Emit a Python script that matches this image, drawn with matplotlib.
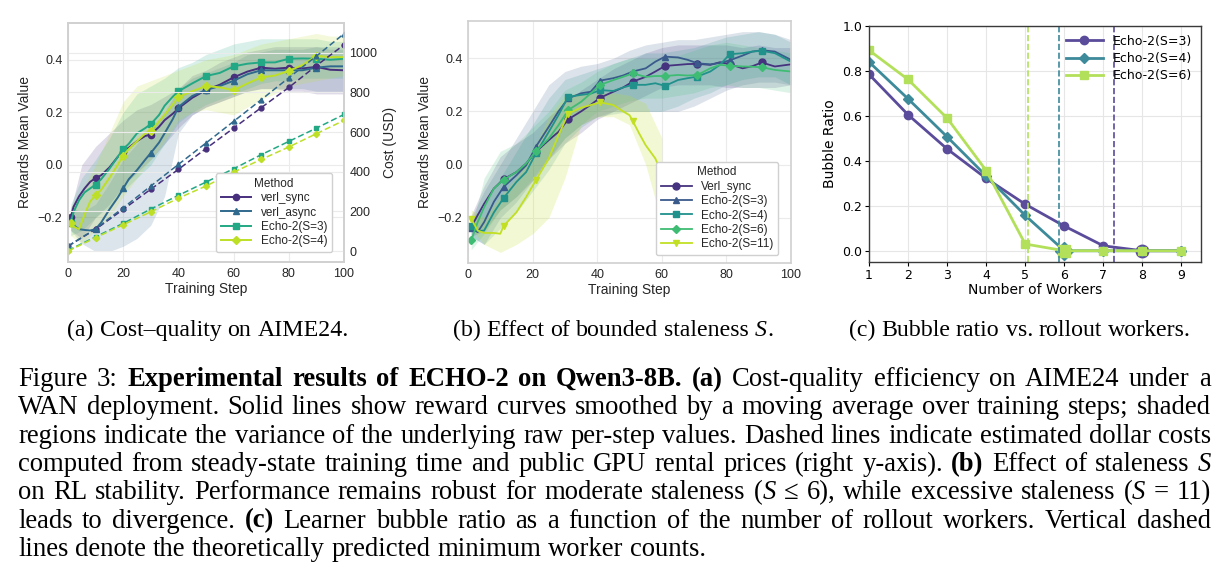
import re
import matplotlib
matplotlib.use('Agg')
import matplotlib.pyplot as plt
import numpy as np

# ---------------- data: (a) cost-quality on AIME24 ----------------
a_steps = [1, 2, 4, 6, 8, 10, 12, 15, 18, 20, 22, 25, 28, 30, 33, 35, 38, 40, 45, 50,
           55, 60, 65, 70, 75, 80, 85, 90, 95, 100]
a_verl_sync = [-0.20, -0.16, -0.12, -0.09, -0.065, -0.05, -0.04, -0.01, 0.03, 0.05, 0.065, 0.09,
               0.11, 0.115, 0.145, 0.17, 0.195, 0.215, 0.255, 0.285, 0.305, 0.333, 0.355, 0.37,
               0.366, 0.37, 0.367, 0.373, 0.362, 0.36]
a_verl_async = [-0.21, -0.23, -0.245, -0.248, -0.25, -0.245, -0.22, -0.17, -0.125, -0.09, -0.055,
                -0.02, 0.02, 0.045, 0.085, 0.12, 0.175, 0.22, 0.262, 0.285, 0.30, 0.32, 0.345, 0.36,
                0.36, 0.36, 0.36, 0.37, 0.375, 0.375]
a_echo_s3 = [-0.22, -0.18, -0.135, -0.105, -0.09, -0.075, -0.055, -0.015, 0.03, 0.06, 0.08, 0.12,
             0.14, 0.155, 0.19, 0.225, 0.26, 0.28, 0.31, 0.338, 0.35, 0.375, 0.385, 0.39, 0.39,
             0.404, 0.405, 0.404, 0.40, 0.404]
a_echo_s4 = [-0.22, -0.235, -0.245, -0.19, -0.14, -0.115, -0.095, -0.05, 0.0, 0.035, 0.06, 0.09,
             0.12, 0.13, 0.165, 0.19, 0.23, 0.258, 0.28, 0.30, 0.295, 0.284, 0.31, 0.333, 0.34,
             0.358, 0.38, 0.415, 0.41, 0.41]
a_mark_steps = [1, 10, 20, 30, 40, 50, 60, 70, 80, 90]

band_steps = [1, 5, 10, 15, 20, 25, 30, 35, 40, 45, 50, 55, 60, 65, 70, 75, 80, 85, 90, 95, 100]
a_sync_lo = [-0.25, -0.28, -0.2, -0.15, -0.08, -0.03, 0.02, 0.08, 0.14, 0.19, 0.22, 0.24, 0.26,
             0.28, 0.29, 0.29, 0.28, 0.28, 0.27, 0.27, 0.27]
a_sync_hi = [-0.17, 0.0, 0.07, 0.12, 0.17, 0.21, 0.23, 0.26, 0.29, 0.34, 0.36, 0.39, 0.41, 0.43,
             0.44, 0.45, 0.45, 0.45, 0.45, 0.44, 0.44]
a_async_lo = [-0.25, -0.3, -0.33, -0.33, -0.31, -0.28, -0.23, -0.12, 0.12, 0.19, 0.22, 0.24, 0.26,
              0.28, 0.29, 0.29, 0.29, 0.29, 0.28, 0.28, 0.28]
a_async_hi = [-0.16, -0.18, -0.15, -0.07, 0.02, 0.08, 0.14, 0.2, 0.29, 0.33, 0.35, 0.37, 0.39,
              0.42, 0.43, 0.44, 0.44, 0.44, 0.45, 0.45, 0.45]
a_s3_lo = [-0.27, -0.25, -0.2, -0.16, -0.1, -0.05, 0.0, 0.08, 0.16, 0.2, 0.23, 0.25, 0.27, 0.29,
           0.31, 0.32, 0.32, 0.33, 0.33, 0.33, 0.33]
a_s3_hi = [-0.15, -0.05, 0.02, 0.1, 0.2, 0.27, 0.3, 0.33, 0.37, 0.39, 0.42, 0.44, 0.46, 0.47,
           0.48, 0.48, 0.48, 0.48, 0.48, 0.47, 0.47]
a_s4_lo = [-0.27, -0.3, -0.25, -0.2, -0.12, -0.05, 0.02, 0.09, 0.17, 0.2, 0.21, 0.2, 0.19, 0.22,
           0.25, 0.27, 0.3, 0.31, 0.32, 0.33, 0.34]
a_s4_hi = [-0.16, -0.1, 0.0, 0.12, 0.24, 0.3, 0.32, 0.34, 0.36, 0.38, 0.4, 0.41, 0.42, 0.44, 0.46,
           0.47, 0.48, 0.49, 0.5, 0.49, 0.49]

cost_steps = [0, 10, 20, 30, 40, 50, 60, 70, 80, 90, 100]
cost_verl_sync = [25, 110, 210, 312, 412, 517, 620, 723, 825, 935, 1040]
cost_verl_async = [25, 113, 218, 328, 437, 545, 654, 763, 874, 983, 1096]
cost_echo_s3 = [3, 72, 140, 212, 281, 348, 415, 486, 553, 620, 689]
cost_echo_s4 = [0, 68, 133, 198, 267, 328, 398, 462, 525, 592, 659]

a_labels = ['verl_sync', 'verl_async', 'Echo-2(S=3)', 'Echo-2(S=4)']

# ---------------- data: (b) bounded staleness ----------------
b_steps = [1, 3, 5, 8, 11, 15, 18, 21, 25, 28, 31, 35, 38, 41, 45, 48, 51, 55, 58, 61, 65, 68,
           71, 75, 78, 81, 85, 88, 91, 95, 100]
b_verl_sync = [-0.235, -0.19, -0.147, -0.09, -0.055, -0.028, 0.004, 0.048, 0.092, 0.123, 0.17,
               0.2, 0.225, 0.252, 0.274, 0.29, 0.312, 0.33, 0.35, 0.371, 0.375, 0.378, 0.379,
               0.375, 0.385, 0.378, 0.362, 0.37, 0.384, 0.369, 0.377]
b_echo_s3 = [-0.24, -0.254, -0.216, -0.14, -0.084, -0.04, -0.003, 0.067, 0.142, 0.2, 0.249, 0.268,
             0.274, 0.316, 0.325, 0.335, 0.35, 0.362, 0.387, 0.406, 0.403, 0.394, 0.381, 0.377,
             0.382, 0.392, 0.41, 0.425, 0.43, 0.425, 0.394]
b_echo_s4 = [-0.23, -0.25, -0.248, -0.18, -0.126, -0.065, -0.028, 0.042, 0.123, 0.186, 0.255,
             0.262, 0.267, 0.28, 0.277, 0.29, 0.3, 0.3, 0.306, 0.296, 0.318, 0.325, 0.331, 0.35,
             0.375, 0.415, 0.419, 0.425, 0.428, 0.419, 0.387]
b_echo_s6 = [-0.285, -0.216, -0.16, -0.09, -0.057, -0.028, 0.004, 0.05, 0.098, 0.148, 0.205,
             0.236, 0.268, 0.3, 0.318, 0.33, 0.343, 0.33, 0.333, 0.333, 0.337, 0.335, 0.337,
             0.362, 0.375, 0.372, 0.369, 0.368, 0.366, 0.356, 0.35]
b_mark_steps = [1, 11, 21, 31, 41, 51, 61, 71, 81, 91]
b11_steps = [1, 3, 5, 8, 10, 11, 15, 18, 21, 25, 28, 31, 35, 38, 41, 45, 48, 50, 51, 53, 55, 58, 60]
b_echo_s11 = [-0.204, -0.248, -0.257, -0.257, -0.26, -0.231, -0.179, -0.122, -0.059, 0.023, 0.11,
              0.192, 0.214, 0.224, 0.234, 0.224, 0.2, 0.186, 0.164, 0.117, 0.073, 0.023, -0.034]
b_mark11_steps = [1, 11, 21, 31, 41, 51]

b_sync_lo = [-0.27, -0.25, -0.17, -0.12, -0.06, 0.02, 0.08, 0.12, 0.17, 0.2, 0.23, 0.26, 0.29,
             0.3, 0.3, 0.3, 0.29, 0.29, 0.29, 0.29, 0.3]
b_sync_hi = [-0.19, -0.08, 0.03, 0.08, 0.12, 0.18, 0.23, 0.28, 0.32, 0.36, 0.39, 0.42, 0.44, 0.45,
             0.45, 0.45, 0.45, 0.44, 0.45, 0.44, 0.44]
b_s3_lo = [-0.27, -0.3, -0.2, -0.14, -0.06, 0.02, 0.1, 0.15, 0.18, 0.2, 0.2, 0.2, 0.2, 0.2, 0.22,
           0.25, 0.28, 0.3, 0.31, 0.31, 0.3]
b_s3_hi = [-0.2, -0.1, 0.0, 0.1, 0.2, 0.3, 0.35, 0.37, 0.38, 0.4, 0.43, 0.45, 0.46, 0.47, 0.47,
           0.48, 0.49, 0.5, 0.5, 0.49, 0.47]
b_s4_lo = [-0.27, -0.3, -0.24, -0.18, -0.1, -0.02, 0.08, 0.14, 0.18, 0.19, 0.2, 0.2, 0.2, 0.22,
           0.25, 0.27, 0.3, 0.32, 0.33, 0.33, 0.3]
b_s4_hi = [-0.2, -0.16, -0.05, 0.05, 0.15, 0.25, 0.32, 0.34, 0.36, 0.38, 0.4, 0.42, 0.42, 0.43,
           0.44, 0.46, 0.48, 0.49, 0.5, 0.49, 0.46]
b_s6_lo = [-0.32, -0.26, -0.17, -0.12, -0.05, 0.03, 0.1, 0.15, 0.2, 0.22, 0.24, 0.25, 0.25, 0.26,
           0.27, 0.29, 0.3, 0.29, 0.29, 0.28, 0.27]
b_s6_hi = [-0.24, -0.05, 0.05, 0.08, 0.14, 0.2, 0.28, 0.31, 0.35, 0.38, 0.4, 0.4, 0.4, 0.41, 0.43,
           0.45, 0.46, 0.45, 0.44, 0.43, 0.42]
band11_steps = [1, 5, 10, 15, 20, 25, 30, 35, 40, 45, 50, 55, 60]
b_s11_lo = [-0.24, -0.3, -0.33, -0.3, -0.26, -0.2, -0.05, 0.15, 0.18, 0.18, 0.15, 0.0, -0.22]
b_s11_hi = [-0.17, -0.2, -0.12, -0.05, 0.05, 0.18, 0.26, 0.27, 0.27, 0.27, 0.26, 0.23, 0.1]

b_labels = ['Verl_sync', 'Echo-2(S=3)', 'Echo-2(S=4)', 'Echo-2(S=6)', 'Echo-2(S=11)']

# ---------------- data: (c) bubble ratio ----------------
workers = [1, 2, 3, 4, 5, 6, 7, 8, 9]
bubble_s3 = [0.785, 0.605, 0.453, 0.322, 0.207, 0.110, 0.022, 0.0, 0.0]
bubble_s4 = [0.840, 0.676, 0.507, 0.333, 0.157, 0.0, 0.0, 0.0, 0.0]
bubble_s6 = [0.892, 0.762, 0.590, 0.357, 0.030, 0.0, 0.0, 0.0, 0.0]
predicted_min = [7.27, 5.86, 5.07]   # S=3, S=4, S=6
c_labels = ['Echo-2(S=3)', 'Echo-2(S=4)', 'Echo-2(S=6)']

# ---------------- captions ----------------
subcaptions = ['(a) Cost\u2013quality on AIME24.',
               '(b) Effect of bounded staleness *S*.',
               '(c) Bubble ratio vs. rollout workers.']
caption_lines = [
    'Figure 3: **Experimental results of ECHO-2 on Qwen3-8B.** **(a)** Cost-quality efficiency on AIME24 under a',
    'WAN deployment. Solid lines show reward curves smoothed by a moving average over training steps; shaded',
    'regions indicate the variance of the underlying raw per-step values. Dashed lines indicate estimated dollar costs',
    'computed from steady-state training time and public GPU rental prices (right y-axis). **(b)** Effect of staleness *S*',
    'on RL stability. Performance remains robust for moderate staleness (*S* \u2264 6), while excessive staleness (*S* = 11)',
    'leads to divergence. **(c)** Learner bubble ratio as a function of the number of rollout workers. Vertical dashed',
    'lines denote the theoretically predicted minimum worker counts.',
]

# ---------------- figure ----------------
plt.rcParams['font.family'] = 'sans-serif'
plt.rcParams['font.sans-serif'] = ['Liberation Sans', 'DejaVu Sans']
W, H = 1223, 588
fig = plt.figure(figsize=(W / 100, H / 100), dpi=100)


def px_axes(left, top, right, bottom):
    return fig.add_axes([left / W, 1 - bottom / H, (right - left) / W, (bottom - top) / H])


def light_style(ax):
    for s in ax.spines.values():
        s.set_color('#d0d0d0')
        s.set_linewidth(1.2)
    ax.grid(True, color='#ebebeb', lw=0.8)
    ax.tick_params(length=0, labelsize=9, labelcolor='#262626', pad=4)
    ax.set_axisbelow(True)


def marks(steps, wanted):
    return [steps.index(s) for s in wanted]


# (a)
a_colors = ['#472f7d', '#30698e', '#22a884', '#bddf26']
a_markers = ['o', '^', 's', 'D']
axa = px_axes(68, 23, 344, 262)
light_style(axa)
a_series = [a_verl_sync, a_verl_async, a_echo_s3, a_echo_s4]
a_bands = [(a_sync_lo, a_sync_hi), (a_async_lo, a_async_hi), (a_s3_lo, a_s3_hi), (a_s4_lo, a_s4_hi)]
handles = []
for (lo, hi), c in zip(a_bands, a_colors):
    axa.fill_between(band_steps, lo, hi, color=c, alpha=0.17, lw=0)
for ys, c, m, lab in zip(a_series, a_colors, a_markers, a_labels):
    h, = axa.plot(a_steps, ys, color=c, lw=1.4, marker=m, ms=4.5 if m != 'D' else 4,
                  markevery=marks(a_steps, a_mark_steps), label=lab)
    handles.append(h)
axa.set_xlim(0, 100)
axa.set_ylim(-0.37, 0.54)
axa.set_xticks([0, 20, 40, 60, 80, 100])
axa.set_yticks([-0.2, 0.0, 0.2, 0.4])
axa.set_xlabel('Training Step', fontsize=10, color='#262626', labelpad=2)
axa.set_ylabel('Rewards Mean Value', fontsize=10, color='#262626')

ax2 = axa.twinx()
light_style(ax2)
for ys, c, m in zip([cost_verl_sync, cost_verl_async, cost_echo_s3, cost_echo_s4], a_colors, a_markers):
    ax2.plot(cost_steps, ys, color=c, lw=1.1, ls=(0, (4, 2)), marker=m, ms=3.5 if m != 'D' else 3.2)
ax2.set_ylim(-55, 1150)
ax2.set_yticks([0, 200, 400, 600, 800, 1000])
ax2.set_ylabel('Cost (USD)', fontsize=10, color='#262626')
leg = ax2.legend(handles, a_labels, title='Method', loc='lower right', bbox_to_anchor=(0.957, 0.042),
                 borderaxespad=0, fontsize=8.5, title_fontsize=8.5, labelspacing=0.2,
                 handlelength=2.6, frameon=True, edgecolor='#d0d0d0', fancybox=True, framealpha=1)
for t in leg.get_texts() + [leg.get_title()]:
    t.set_color('#262626')

# (b)
b_colors = ['#46337f', '#3a5a8c', '#21918c', '#3fbc73', '#c2df23']
b_markers = ['o', '^', 's', 'D', 'v']
axb = px_axes(468, 21, 791, 263)
light_style(axb)
b_series = [b_verl_sync, b_echo_s3, b_echo_s4, b_echo_s6]
b_bands = [(b_sync_lo, b_sync_hi), (b_s3_lo, b_s3_hi), (b_s4_lo, b_s4_hi), (b_s6_lo, b_s6_hi)]
for (lo, hi), c in zip(b_bands, b_colors[:4]):
    axb.fill_between(band_steps, lo, hi, color=c, alpha=0.17, lw=0)
axb.fill_between(band11_steps, b_s11_lo, b_s11_hi, color=b_colors[4], alpha=0.2, lw=0)
for ys, c, m, lab in zip(b_series, b_colors[:4], b_markers[:4], b_labels[:4]):
    axb.plot(b_steps, ys, color=c, lw=1.3, marker=m, ms=5 if m != 'D' else 4.5,
             markevery=marks(b_steps, b_mark_steps), label=lab)
axb.plot(b11_steps, b_echo_s11, color=b_colors[4], lw=1.3, marker='v', ms=5,
         markevery=marks(b11_steps, b_mark11_steps), label=b_labels[4])
axb.set_xlim(0, 100)
axb.set_ylim(-0.37, 0.54)
axb.set_xticks([0, 20, 40, 60, 80, 100])
axb.set_yticks([-0.2, 0.0, 0.2, 0.4])
axb.set_xlabel('Training Step', fontsize=10, color='#262626', labelpad=2)
axb.set_ylabel('Rewards Mean Value', fontsize=10, color='#262626')
leg = axb.legend(title='Method', loc='lower right', bbox_to_anchor=(0.96, 0.033), borderaxespad=0,
                 fontsize=8.5, title_fontsize=8.5, labelspacing=0.2, handlelength=2.6,
                 edgecolor='#d0d0d0', framealpha=1)
for t in leg.get_texts() + [leg.get_title()]:
    t.set_color('#262626')

# (c)
c_colors = ['#5b4b9b', '#3d8a9b', '#b3e05b']
c_markers = ['o', 'D', 's']
axc = px_axes(869, 26, 1201, 262)
for s in axc.spines.values():
    s.set_color('#3a3a3a')
    s.set_linewidth(1.0)
axc.grid(True, color='#e6e6e6', lw=0.8)
axc.set_axisbelow(True)
for ys, c, m, lab in zip([bubble_s3, bubble_s4, bubble_s6], c_colors, c_markers, c_labels):
    axc.plot(workers, ys, color=c, lw=2, marker=m, ms=6 if m != 'D' else 5.5, label=lab)
    first_zero = ys.index(0.0)
    axc.plot(workers[first_zero], ys[first_zero], marker=m, color=c, ms=9, ls='none')
for xv, c in zip(predicted_min, c_colors):
    axc.axvline(xv, color=c, lw=1.2, ls='--')
axc.set_xlim(1, 9.5)
axc.set_ylim(-0.05, 1.0)
axc.set_xticks(workers)
axc.set_yticks([0.0, 0.2, 0.4, 0.6, 0.8, 1.0])
axc.tick_params(labelsize=9, length=3, pad=2)
for lab in axc.get_xticklabels() + axc.get_yticklabels():
    lab.set_fontfamily('DejaVu Sans')
axc.set_xlabel('Number of Workers', fontsize=10, family='DejaVu Sans', labelpad=1)
axc.set_ylabel('Bubble Ratio', fontsize=10, family='DejaVu Sans')
axc.legend(loc='upper right', frameon=False, handlelength=3, labelspacing=0.35,
           prop={'family': 'DejaVu Sans', 'size': 9}, borderaxespad=0.3)

# ---------------- caption text ----------------
SERIF = ['Liberation Serif', 'DejaVu Serif']
renderer = fig.canvas.get_renderer()


def parse_words(line):
    words, cur = [], []
    for part in re.split(r'(\*\*.+?\*\*|\*.+?\*)', line):
        if not part:
            continue
        if part.startswith('**'):
            style, txt = 'bold', part[2:-2]
        elif part.startswith('*'):
            style, txt = 'italic', part[1:-1]
        else:
            style, txt = 'normal', part
        for i, p in enumerate(txt.split(' ')):
            if i > 0 and cur:
                words.append(cur)
                cur = []
            if p:
                cur.append((p, style))
    if cur:
        words.append(cur)
    return words


def draw_line(line, x0, x1, y, size, mode):
    words = parse_words(line)
    items, widths = [], []
    for w in words:
        segs = []
        for s, st in w:
            t = fig.text(0, 1 - y / H, s, fontsize=size, family=SERIF, va='baseline', ha='left',
                         fontweight='bold' if st == 'bold' else 'normal',
                         fontstyle='italic' if st == 'italic' else 'normal')
            segs.append((t, t.get_window_extent(renderer).width))
        items.append(segs)
        widths.append(sum(wp for _, wp in segs))
    space = 0.25 * size * 100 / 72
    if mode == 'justify':
        gap = (x1 - x0 - sum(widths)) / (len(words) - 1)
        x = x0
    elif mode == 'center':
        gap = space
        x = (x0 + x1) / 2 - (sum(widths) + gap * (len(words) - 1)) / 2
    else:
        gap = space
        x = x0
    for segs, ww in zip(items, widths):
        xx = x
        for t, wp in segs:
            t.set_x(xx / W)
            xx += wp
        x += ww + gap


for txt, cx in zip(subcaptions, [208, 613, 1020]):
    draw_line(txt, cx - 10, cx + 10, 336, 17.2, 'center')
for i, line in enumerate(caption_lines):
    mode = 'justify' if i < len(caption_lines) - 1 else 'left'
    draw_line(line, 18, 1211, 386 + 28.3 * i, 19.2, mode)

fig.savefig('out.png', dpi=100)
